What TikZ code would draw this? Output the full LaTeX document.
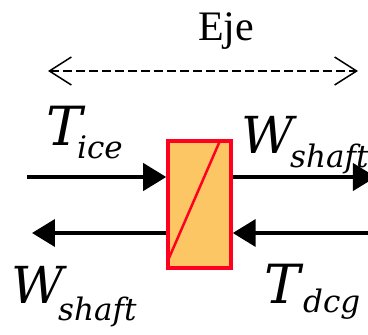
\documentclass[tikz,border=0pt]{standalone}
\usepackage{fontspec}
\setmainfont{Liberation Serif}
\newfontfamily\labelfont{DejaVu Serif}
\usetikzlibrary{arrows.meta}
\definecolor{boxfill}{RGB}{252,198,100}
\definecolor{boxred}{RGB}{255,0,32}
\tikzset{
  flow/.style={line width=4pt,-{Triangle[length=23pt,width=27pt]}},
  axis/.style={line width=1.5pt,dash pattern=on 9pt off 4pt,{Straight Barb[length=22pt,width=28pt]}-{Straight Barb[length=22pt,width=28pt]}},
  big/.style={font=\labelfont\itshape\fontsize{54}{54}\selectfont,inner sep=0pt,anchor=base west},
  bigw/.style={font=\labelfont\itshape\fontsize{51}{51}\selectfont,inner sep=0pt,anchor=base west},
  sub/.style={font=\labelfont\itshape\fontsize{31}{31}\selectfont,inner sep=0pt,anchor=base west},
}
\begin{document}
\begin{tikzpicture}[x=1pt,y=-1pt]
\useasboundingbox (0,0) rectangle (368,335);
% axis
\coordinate (axL) at (48,71);
\coordinate (axR) at (358,71);
\draw[axis] (axL) -- (axR);
\node[font=\fontsize{42}{42}\selectfont,inner sep=0pt,anchor=base] (eje) at (226,40) {Eje};
% box
\node[draw=boxred,fill=boxfill,line width=3.5pt,minimum width=63pt,minimum height=127pt,inner sep=0pt] (box) at (199.5,204.5) {};
\draw[boxred,line width=2.5pt] ([xshift=2pt,yshift=10pt]box.south west) -- ([xshift=-13pt,yshift=-2pt]box.north east);
% flows
\coordinate (a1) at (27,177);
\coordinate (a2) at (368,177);
\coordinate (b1) at (32,233);
\coordinate (b2) at (368,233);
\draw[flow] (a1) -- (a1 -| box.west);
\draw[flow,shorten >=-8pt] (a1 -| box.east) -- (a2);
\draw[flow] (b1 -| box.west) -- (b1);
\draw[flow] (b2) -- (b1 -| box.east);
% labels
\node[big] (ti) at (46,145) {T};
\node[sub] (tis) at (77,158) {ice};
\node[bigw] (wt) at (241,153) {W};
\node[sub] (wts) at (290,167) {shaft};
\node[bigw] (wb) at (11,303) {W};
\node[sub] (wbs) at (58,320) {shaft};
\node[big] (td) at (264,303) {T};
\node[sub] (tds) at (303,312) {dcg};
\end{tikzpicture}
\end{document}
